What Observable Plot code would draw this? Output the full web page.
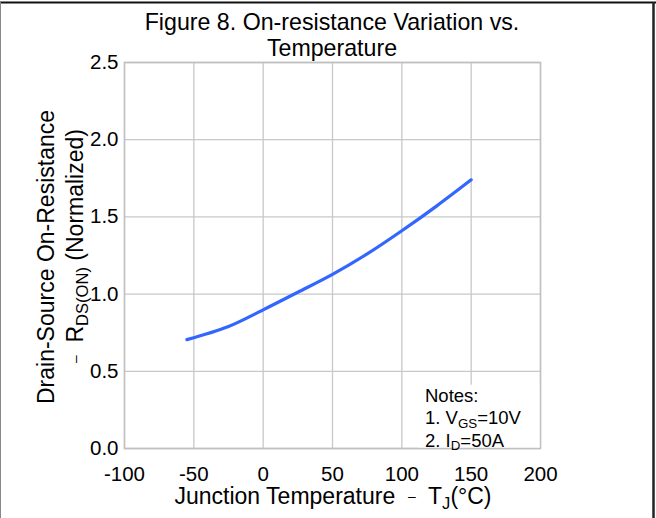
<!DOCTYPE html>
<html>
<head>
<meta charset="utf-8">
<script src="https://cdn.jsdelivr.net/npm/d3@7"></script>
<script src="https://cdn.jsdelivr.net/npm/@observablehq/plot@0.6"></script>
<style>
  html, body { margin: 0; padding: 0; background: white; }
  #chart svg { display: block; }
</style>
</head>
<body>
<div id="chart"></div>
<script>
const temps = [-55, -25, 0, 25, 50, 75, 100, 125, 150];
const rdson = [0.705, 0.79, 0.898, 1.012, 1.128, 1.26, 1.41, 1.57, 1.74];
const xTicks = [-100, -50, 0, 50, 100, 150, 200];
const yTicks = [0, 0.5, 1.0, 1.5, 2.0, 2.5];
const titleLines = ["Figure 8. On-resistance Variation vs.", "Temperature"];
const yTitle1 = "Drain-Source On-Resistance";
const yTitle2 = [{t: "\u2013", small: true}, {t: "  R"}, {t: "DS(ON)", sub: true}, {t: " (Normalized)"}];
const xTitle = [{t: "Junction Temperature  "}, {t: "\u2013", small: true}, {t: "  T"}, {t: "J", sub: true}, {t: "(\u00B0C)"}];
const notes = [[{t: "Notes:"}], [{t: "1. V"}, {t: "GS", sub: true}, {t: "=10V"}], [{t: "2. I"}, {t: "D", sub: true}, {t: "=50A"}]];

const data = temps.map((t, i) => ({t, r: rdson[i]}));
const FONT = "'Liberation Sans', Arial, sans-serif";

const plot = Plot.plot({
  width: 656,
  height: 518,
  marginLeft: 124,
  marginRight: 116,
  marginTop: 62,
  marginBottom: 70,
  style: {fontFamily: FONT, fontSize: "20.5px", color: "#000", background: "white"},
  x: {domain: [-100, 200], ticks: xTicks, tickFormat: d => String(d), label: null, tickSize: 0, tickPadding: 18},
  y: {domain: [0, 2.5], ticks: yTicks, tickFormat: d => d.toFixed(1), label: null, tickSize: 0, tickPadding: 6},
  marks: [
    Plot.gridX(xTicks, {stroke: "#c8c8c8", strokeOpacity: 1, strokeWidth: 1.3}),
    Plot.gridY(yTicks, {stroke: "#c8c8c8", strokeOpacity: 1, strokeWidth: 1.3}),
    Plot.rect([0], {x1: 112, x2: 200, y1: 0, y2: 0.41, fill: "white"}),
    Plot.frame({stroke: "#c0c0c0", strokeWidth: 1.5}),
    Plot.line(data, {x: "t", y: "r", stroke: "#3366ff", strokeWidth: 3.2, curve: "catmull-rom"})
  ]
});

document.getElementById("chart").appendChild(plot);

const svg = d3.select(plot);
const xs = plot.scale("x");
const cx = (xs.apply(-100) + xs.apply(200)) / 2;

// helper: text with subscript / small parts
function richText(g, parts, size) {
  let shift = 0;
  parts.forEach(p => {
    const ts = g.append("tspan").text(p.t);
    let target = 0;
    if (p.sub) { ts.attr("font-size", size * 0.72); target = size * 0.2; }
    else if (p.small) { ts.attr("font-size", size * 0.6); target = -size * 0.12; }
    if (target !== shift) { ts.attr("dy", target - shift); shift = target; }
  });
}

// title
titleLines.forEach((line, i) => {
  svg.append("text")
    .attr("x", cx).attr("y", 30 + i * 25.5)
    .attr("text-anchor", "middle")
    .attr("font-family", FONT).attr("font-size", 23.2).attr("fill", "#000")
    .text(line);
});

// x title
const xt = svg.append("text")
  .attr("x", cx + 1).attr("y", 504)
  .attr("text-anchor", "middle")
  .attr("font-family", FONT).attr("font-size", 23).attr("fill", "#000");
richText(xt, xTitle, 23);

// y title
svg.append("text")
  .attr("transform", "translate(54,257) rotate(-90)")
  .attr("text-anchor", "middle")
  .attr("font-family", FONT).attr("font-size", 23).attr("fill", "#000")
  .text(yTitle1);
const yt2 = svg.append("text")
  .attr("transform", "translate(83,246) rotate(-90)")
  .attr("text-anchor", "middle")
  .attr("font-family", FONT).attr("font-size", 23).attr("fill", "#000");
richText(yt2, yTitle2, 23);

// notes
const nx = 425;
notes.forEach((parts, i) => {
  const t = svg.append("text")
    .attr("x", nx).attr("y", 402 + i * 22.3)
    .attr("text-anchor", "start")
    .attr("font-family", FONT).attr("font-size", 18.5).attr("fill", "#000");
  richText(t, parts, 18.5);
});

// outer border
svg.append("line").attr("x1", 0).attr("x2", 656).attr("y1", 2.5).attr("y2", 2.5)
  .attr("stroke", "#111").attr("stroke-width", 2);
svg.append("line").attr("x1", 653.5).attr("x2", 653.5).attr("y1", 2).attr("y2", 518)
  .attr("stroke", "#222").attr("stroke-width", 2.5);
svg.append("line").attr("x1", 0.5).attr("x2", 0.5).attr("y1", 2).attr("y2", 518)
  .attr("stroke", "#888").attr("stroke-width", 1);
</script>
</body>
</html>
